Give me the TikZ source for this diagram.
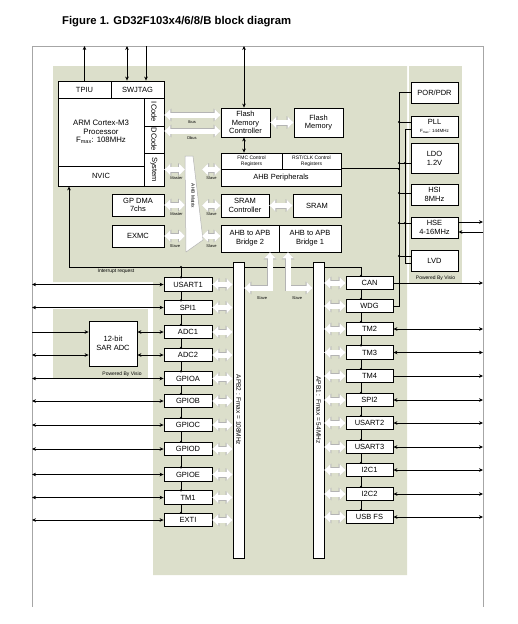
\documentclass[tikz,border=0pt]{standalone}
\usepackage{fontspec}
\setmainfont{Liberation Sans}
\usetikzlibrary{arrows.meta,positioning,calc,backgrounds}
\definecolor{zone}{HTML}{DCDFCB}
\definecolor{framegray}{HTML}{A6A6A6}
\definecolor{hollowline}{HTML}{B4B4B4}

\begin{document}
\begin{tikzpicture}[x=1pt,y=-1pt,
    >={Stealth[length=4pt,width=3.6pt]},
    box/.style={draw,line width=0.8pt,fill=white,inner sep=0pt,align=center,font=\fontsize{7.5}{8.8}\selectfont},
    lper/.style={box,minimum width=48pt,minimum height=13.5pt},
    rper/.style={box,minimum width=47pt,minimum height=13.5pt},
    pwrbox/.style={box,minimum width=47pt,minimum height=21pt},
    bar/.style={draw,line width=0.8pt,fill=white,minimum width=11pt,minimum height=296pt,inner sep=0pt},
    tiny/.style={font=\fontsize{4}{4.5}\selectfont,inner sep=0pt},
    small/.style={font=\fontsize{5}{5.8}\selectfont,inner sep=0pt,align=center},
    sig/.style={line width=0.7pt},
    hollow/.style={white,line width=5pt,{Triangle[width=11pt,length=6pt]}-{Triangle[width=11pt,length=6pt]},
      preaction={draw=hollowline,line width=6pt,{Triangle[width=12.5pt,length=7pt]}-{Triangle[width=12.5pt,length=7pt]}}},
    dot/.style={circle,fill,inner sep=0pt,minimum size=2.4pt}
    ]
    \useasboundingbox (0,0) rectangle (518,624);
    \coordinate (top) at (0,46);
    \coordinate (lft) at (32,0);
    \coordinate (rgt) at (483,0);
    \coordinate (mtxl) at (185,0);
    \coordinate (mtxr) at (202,0);
    \coordinate (lch) at (181,0);
    \coordinate (rch) at (361,0);
    \coordinate (bus) at (399,0);
    \coordinate (pwr) at (405,0);
    \coordinate (irq) at (69,267);

    % shaded areas
    \begin{scope}[on background layer]
      \fill[zone] (53,66) -- (407,66) -- (407,575) -- (153,575) -- (153,282) -- (53,282) -- cycle;
      \fill[zone] (409,66) rectangle (462,283);
      \fill[zone] (53,309) rectangle (148,379);
    \end{scope}
    \node[small] (visio1) at (435.5,278) {Powered By Visio};
    \node[small] (visio2) at (122,374) {Powered By Visio};
    \draw[framegray,line width=0.8pt] (lft |- 0,607) |- (rgt |- top) -- (rgt |- 0,607);

    \node[font=\bfseries\fontsize{11.3}{13}\selectfont,anchor=west,inner sep=0pt] (title) at (62,22) {Figure 1. GD32F103x4/6/8/B block diagram};

    % core
    \node[box,minimum width=53pt,minimum height=17pt] (tpiu) at (84.5,89.5) {TPIU};
    \node[box,minimum width=53pt,minimum height=17pt] (swj) at (137.5,89.5) {SWJTAG};
    \node[box,minimum width=86pt,minimum height=68pt,font=\fontsize{7.8}{8.8}\selectfont] (arm) at (101,132) {ARM Cortex-M3\\Processor\\F\textsubscript{max}: 108MHz};
    \node[box,minimum width=86pt,minimum height=20pt] (nvic) at (101,176) {NVIC};
    \node[box,minimum width=20pt,minimum height=28pt] (icode) at (154,112) {};
    \node[box,minimum width=20pt,minimum height=27pt] (dcode) at (154,139.5) {};
    \node[box,minimum width=20pt,minimum height=33pt] (sys) at (154,169.5) {};
    \node[rotate=-90,font=\fontsize{7.5}{8}\selectfont,inner sep=0pt] (icodetxt) at (icode) {ICode};
    \node[rotate=-90,font=\fontsize{7.5}{8}\selectfont,inner sep=0pt] (dcodetxt) at (dcode) {DCode};
    \node[rotate=-90,font=\fontsize{7.5}{8}\selectfont,inner sep=0pt] (systxt) at (sys) {System};

    \node[box,minimum width=52pt,minimum height=22pt] (gpdma) at (138,205) {GP DMA\\7chs};
    \node[box,minimum width=52pt,minimum height=22pt] (exmc) at (138,236) {EXMC};

    % AHB side
    \node[box,minimum width=49pt,minimum height=29pt] (fmc) at (245.5,122.5) {Flash\\Memory\\Controller};
    \node[box,minimum width=49pt,minimum height=29pt] (flash) at (318.5,122.5) {Flash\\Memory};
    \node[box,minimum width=61pt,minimum height=16pt,font=\fontsize{5}{5.8}\selectfont] (fmcreg) at (251.5,161) {FMC Control\\Registers};
    \node[box,minimum width=59pt,minimum height=16pt,font=\fontsize{5}{5.8}\selectfont] (rstreg) at (311.5,161) {RST/CLK Control\\Registers};
    \node[box,minimum width=120pt,minimum height=17pt] (ahbp) at (281,177.5) {AHB Peripherals};
    \node[box,minimum width=48pt,minimum height=23pt] (sramc) at (245,205.5) {SRAM\\Controller};
    \node[box,minimum width=48pt,minimum height=23pt] (sram) at (317,205.5) {SRAM};
    \node[box,minimum width=58pt,minimum height=27pt] (br2) at (250,238.5) {AHB to APB\\Bridge 2};
    \node[box,minimum width=62pt,minimum height=27pt] (br1) at (310,238.5) {AHB to APB\\Bridge 1};

    \draw[hollowline,fill=white,line width=0.5pt] (185,156) -- (193,156) -- (203,240) -- (186,252) -- cycle;
    \node[rotate=-90,font=\fontsize{4.8}{5}\selectfont,inner sep=0pt] (mtx) at (193,196) {AHB Matrix};

    % clock and power
    \node[pwrbox] (por) at (434.5,92.5) {POR/PDR};
    \node[pwrbox] (pll) at (434.5,126.5) {PLL\\{\fontsize{4.5}{5}\selectfont F\textsubscript{max}: 144MHz}};
    \node[pwrbox,minimum height=30pt] (ldo) at (434.5,158) {LDO\\1.2V};
    \node[pwrbox] (hsi) at (434.5,194.5) {HSI\\8MHz};
    \node[pwrbox] (hse) at (434.5,227.5) {HSE\\4-16MHz};
    \node[pwrbox] (lvd) at (434.5,260.5) {LVD};

    % APB buses
    \node[bar] (apb2) at (238.5,410) {};
    \node[bar] (apb1) at (318.5,410) {};
    \node[rotate=-90,font=\fontsize{6.5}{7}\selectfont,inner sep=0pt] (apb2txt) at (apb2) {APB2 : Fmax = 108MHz};
    \node[rotate=-90,font=\fontsize{6.5}{7}\selectfont,inner sep=0pt] (apb1txt) at (apb1) {APB1 : Fmax = 54MHz};

    % APB2 peripherals
    \node[lper] (usart1) at (188,284.5) {USART1};
    \node[lper] (spi1) at (188,307.5) {SPI1};
    \node[lper] (adc1) at (188,332) {ADC1};
    \node[lper] (adc2) at (188,355) {ADC2};
    \node[lper] (gpioa) at (188,378.5) {GPIOA};
    \node[lper] (gpiob) at (188,401) {GPIOB};
    \node[lper] (gpioc) at (188,425) {GPIOC};
    \node[lper] (gpiod) at (188,449) {GPIOD};
    \node[lper] (gpioe) at (188,474.5) {GPIOE};
    \node[lper] (tm1) at (188,497.5) {TM1};
    \node[lper] (exti) at (188,520) {EXTI};
    \node[box,minimum width=48pt,minimum height=45pt] (sar) at (113,343.5) {12-bit\\SAR ADC};

    % APB1 peripherals
    \node[rper] (can) at (369.5,283) {CAN};
    \node[rper] (wdg) at (369.5,306) {WDG};
    \node[rper] (tm2) at (369.5,329) {TM2};
    \node[rper] (tm3) at (369.5,352.5) {TM3};
    \node[rper] (tm4) at (369.5,376) {TM4};
    \node[rper] (spi2) at (369.5,400) {SPI2};
    \node[rper] (usart2) at (369.5,423) {USART2};
    \node[rper] (usart3) at (369.5,447) {USART3};
    \node[rper] (i2c1) at (369.5,470) {I2C1};
    \node[rper] (i2c2) at (369.5,494) {I2C2};
    \node[rper] (usbfs) at (369.5,517) {USB FS};

    % interrupt request and chains
    \begin{scope}[on background layer]
      \draw[sig,->] (rch |- can.north) |- (irq) -- (irq |- nvic.south);
      \draw[sig] (lch |- irq) -- (lch |- exti.north);
      \draw[sig] (rch |- can.north) -- (rch |- usbfs.north);
    \end{scope}
    \node[small] (irqtxt) at (116,271.5) {Interrupt request};
    \node[dot] (irqdot) at (lch |- irq) {};
    \foreach \n in {usart1,spi1,adc1,adc2,gpioa,gpiob,gpioc,gpiod,gpioe,tm1,exti}
      \node[dot] (\n dot) at (lch |- \n.north) {};
    \foreach \n in {can,wdg,tm2,tm3,tm4,spi2,usart2,usart3,i2c1,i2c2,usbfs}
      \node[dot] (\n dot) at (rch |- \n.north) {};

    % debug and flash ports
    \draw[sig,->] (tpiu.north) -- (tpiu.north |- top);
    \draw[sig,<->] ([xshift=-10.5pt]swj.north) -- ([xshift=-10.5pt]swj.north |- top);
    \draw[sig,<-] ([xshift=8.5pt]swj.north) -- ([xshift=8.5pt]swj.north |- top);
    \draw[sig,<->] ([xshift=-1.5pt]fmc.north) -- ([xshift=-1.5pt]fmc.north |- top);
    \draw[sig,<->] ([xshift=-1.5pt]fmc.south) -- ([xshift=-1.5pt]fmc.south |- fmcreg.north);

    % buses
    \draw[hollow] (icode.east |- 0,115) -- (fmc.west |- 0,115);
    \draw[hollow] (dcode.east |- 0,131) -- (fmc.west |- 0,131);
    \node[tiny] (ibus) at (192,122) {Ibus};
    \node[tiny] (dbus) at (192,138.5) {Dbus};
    \draw[hollow] (fmc.east) -- (flash.west);
    \draw[hollow] (sramc.east) -- (sram.west);
    \draw[hollow] (sys.east) -- (sys.east -| mtxl);
    \draw[hollow] (mtxr |- sys.east) -- (ahbp.west |- sys.east);
    \draw[hollow] (gpdma.east) -- (gpdma.east -| mtxl);
    \draw[hollow] (mtxr |- sramc.west) -- (sramc.west);
    \draw[hollow] (exmc.east) -- (exmc.east -| mtxl);
    \draw[hollow] (mtxr |- exmc.east) -- (br2.west |- exmc.east);
    \node[tiny] (m1) at (176.5,178.5) {Master};
    \node[tiny] (s1) at (211.5,178.5) {Slave};
    \node[tiny] (m2) at (176.5,214.5) {Master};
    \node[tiny] (s2) at (211.5,214.5) {Slave};
    \node[tiny] (s3) at (175,246) {Slave};
    \node[tiny] (s4) at (211.5,246) {Slave};
    \draw[hollow] (br2.south -| 270,0) |- (apb2.east |- 0,288);
    \draw[hollow] (br1.south -| 288,0) |- (apb1.west |- 0,288);
    \node[tiny] (s5) at (262,298.5) {Slave};
    \node[tiny] (s6) at (297,298.5) {Slave};
    \foreach \n in {usart1,spi1,adc1,adc2,gpioa,gpiob,gpioc,gpiod,gpioe,tm1,exti}
      \draw[hollow] (\n.east) -- (\n.east -| apb2.west);
    \foreach \n in {can,wdg,tm2,tm3,tm4,spi2,usart2,usart3,i2c1,i2c2,usbfs}
      \draw[hollow] (apb1.east |- \n.west) -- (\n.west);

    % pins
    \foreach \n in {usart1,spi1,gpioa,gpiob,gpioc,gpiod,gpioe,tm1,exti}
      \draw[sig,<->] (lft |- \n.west) -- (\n.west);
    \draw[sig,->] (lft |- adc1.west) -- (sar.west |- adc1.west);
    \draw[sig,<->] (lft |- adc2.west) -- (sar.west |- adc2.west);
    \draw[sig,<->] (sar.east |- adc1.west) -- (adc1.west);
    \draw[sig,<->] (sar.east |- adc2.west) -- (adc2.west);
    \foreach \n in {tm2,tm3,spi2,usart2,usart3,i2c1,i2c2,usbfs}
      \draw[sig,<->] (\n.east) -- (rgt |- \n.east);
    \draw[sig,->] (can.east) -- (rgt |- can.east);
    \draw[sig,->] (tm4.east) -- (rgt |- tm4.east);
    \draw[sig,->] (hse.east |- 0,222) -- (rgt |- 0,222);
    \draw[sig,->] (rgt |- 0,232) -- (hse.east |- 0,232);

    % control lines
    \draw[sig] (por.west) -| (bus |- wdg.east) -- (wdg.east);
    \draw[sig] (ahbp.north east) -- (bus |- ahbp.north east);
    \foreach \y/\n in {122/pll,163/ldo,193/hsi,223/hse,256/lvd}
      \draw[sig] (bus |- 0,\y) -- (\n.west |- 0,\y);
    \draw[sig] (pll.west |- 0,129) -| (pwr |- 0,263) -- (lvd.west |- 0,263);
    \foreach \y in {122,163,169,193,223,256}
      \node[dot] (bus\y) at (bus |- 0,\y) {};
    \node[dot] (pwr163) at (pwr |- 0,163) {};
    \node[dot] (pwr223) at (pwr |- 0,223) {};
\end{tikzpicture}
\end{document}
